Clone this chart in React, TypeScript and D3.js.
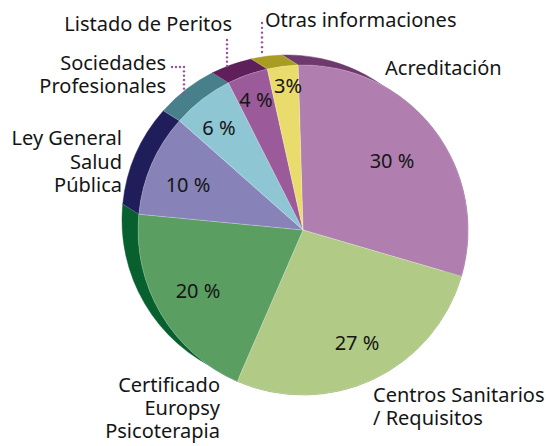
import React from "react";
import * as d3 from "d3";

const categories = [
  "Acreditación",
  "Centros Sanitarios / Requisitos",
  "Certificado Europsy Psicoterapia",
  "Ley General Salud Pública",
  "Sociedades Profesionales",
  "Listado de Peritos",
  "Otras informaciones",
];
const values = [30, 27, 20, 10, 6, 4, 3];
const pctLabels = ["30 %", "27 %", "20 %", "10 %", "6 %", "4 %", "3%"];
const frontColors = ["#B07FAF", "#B1CB87", "#5A9E62", "#8783B9", "#8EC6D3", "#9B5B9B", "#E9DC6C"];
const sideColors = ["#6E3A6E", "#6E8A45", "#07602E", "#201E5A", "#47808A", "#5E1F5A", "#A89C22"];

const W = 546;
const H = 446;
const cx = 303;
const cy = 230;
const R = 165;
const ox = -16;
const oy = -10;

export default function App() {
  const pie = d3
    .pie<number>()
    .sort(null)
    .startAngle((-1.7 * Math.PI) / 180)
    .endAngle(((360 - 1.7) * Math.PI) / 180);
  const arcs = pie(values);
  const arcGen = d3.arc<d3.PieArcDatum<number>>().innerRadius(0).outerRadius(R);

  const pt = (a: number, dx = 0, dy = 0) => [cx + dx + R * Math.sin(a), cy + dy - R * Math.cos(a)];

  const sidePath = (a0: number, a1: number) => {
    const p = d3.path();
    const s = pt(a0);
    p.moveTo(s[0], s[1]);
    p.arc(cx, cy, R, a0 - Math.PI / 2, a1 - Math.PI / 2, false);
    const e = pt(a1, ox, oy);
    p.lineTo(e[0], e[1]);
    p.arc(cx + ox, cy + oy, R, a1 - Math.PI / 2, a0 - Math.PI / 2, true);
    p.closePath();
    return p.toString();
  };

  const labelPos: [number, number][] = [
    [392, 160],
    [357, 342],
    [198, 290],
    [188, 184],
    [219, 127],
    [256, 99],
    [288, 85],
  ];

  const font = "'Noto Sans', sans-serif";
  const fs = 20;

  const dots = (pts: [number, number][]) => {
    const out: JSX.Element[] = [];
    for (let i = 0; i < pts.length - 1; i++) {
      const [x0, y0] = pts[i];
      const [x1, y1] = pts[i + 1];
      const len = Math.hypot(x1 - x0, y1 - y0);
      const n = Math.max(1, Math.round(len / 4.5));
      for (let k = 0; k <= n; k++) {
        if (i > 0 && k === 0) continue;
        out.push(
          <circle key={`${x0}-${y0}-${k}`} cx={x0 + ((x1 - x0) * k) / n} cy={y0 + ((y1 - y0) * k) / n} r={1.2} fill="#9C4F9C" />
        );
      }
    }
    return out;
  };

  const multi = (lines: string[], x: number, y: number, anchor: string, step = 23) => (
    <text x={x} y={y} textAnchor={anchor as any}>
      {lines.map((l, i) => (
        <tspan key={i} x={x} dy={i === 0 ? 0 : step}>
          {l}
        </tspan>
      ))}
    </text>
  );

  return (
    <svg width={W} height={H} style={{ position: "absolute", left: 0, top: 0, background: "#fff" }}>
      <g>
        {arcs.map((a, i) => (
          <path key={"s" + i} d={sidePath(a.startAngle, a.endAngle)} fill={sideColors[i]} stroke={sideColors[i]} strokeWidth={0.5} />
        ))}
        {arcs.map((a, i) => {
          const p0 = pt(a.startAngle);
          const p1 = pt(a.startAngle, ox, oy);
          return <line key={"e" + i} x1={p0[0]} y1={p0[1]} x2={p1[0]} y2={p1[1]} stroke="#ffffff" strokeOpacity={0.35} strokeWidth={0.6} />;
        })}
      </g>
      <g transform={`translate(${cx},${cy})`}>
        {arcs.map((a, i) => (
          <path key={"f" + i} d={arcGen(a) || ""} fill={frontColors[i]} stroke="#ffffff" strokeOpacity={0.35} strokeWidth={0.6} />
        ))}
      </g>
      <g fontFamily={font} fontSize={fs} fill="#151515">
        {pctLabels.map((t, i) => (
          <text key={"p" + i} x={labelPos[i][0]} y={labelPos[i][1]} textAnchor="middle" dominantBaseline="central">
            {t}
          </text>
        ))}
      </g>
      <g>
        {dots([[172, 67], [184, 67], [184, 93]])}
        {dots([[227, 40], [227, 66]])}
        {dots([[262, 23], [262, 52]])}
      </g>
      <g fontFamily={font} fontSize={fs} fill="#151515">
        <text x={232} y={31} textAnchor="end">Listado de Peritos</text>
        <text x={265} y={27}>Otras informaciones</text>
        {multi(["Sociedades", "Profesionales"], 166, 70, "end")}
        <text x={385} y={75}>Acreditación</text>
        {multi(["Ley General", "Salud", "Pública"], 122, 145, "end", 23.5)}
        {multi(["Certificado", "Europsy", "Psicoterapia"], 220, 392, "end")}
        {multi(["Centros Sanitarios", "/ Requisitos"], 373, 402, "start")}
      </g>
    </svg>
  );
}
